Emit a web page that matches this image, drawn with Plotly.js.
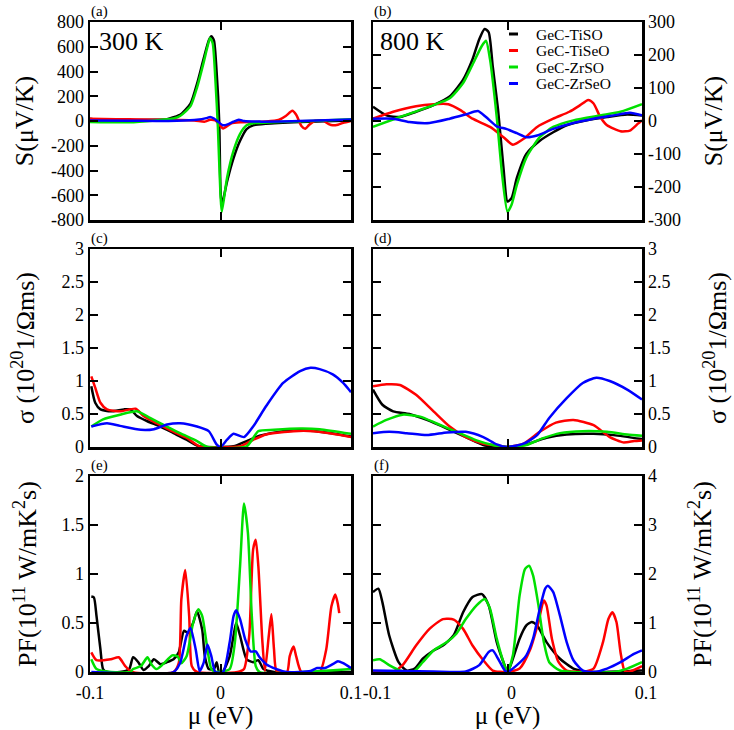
<!DOCTYPE html>
<html>
<head>
<meta charset="utf-8">
<script src="https://cdn.plot.ly/plotly-3.0.1.min.js"></script>
<style>
  body { margin: 0; background: white; }
  #chart { width: 734px; height: 730px; }
</style>
</head>
<body>
<div id="chart"></div>
<script>
// ---- data (mu in eV) ----
const names = ['GeC-TiSO', 'GeC-TiSeO', 'GeC-ZrSO', 'GeC-ZrSeO']
const colors = ['#000000', '#ff0000', '#00e000', '#0000ff']

// (a) Seebeck, 300 K
const aTiSOx = [-0.100, -0.090, -0.070, -0.050, -0.041, -0.036, -0.031, -0.023, -0.018, -0.013, -0.009, -0.007, -0.005, -0.003, -0.001, 0.000, 0.001, 0.005, 0.010, 0.015, 0.020, 0.025, 0.035, 0.061, 0.100]
const aTiSOy = [19, 5, 5, 10, 15, 30, 50, 140, 300, 500, 650, 685, 650, 400, 0, -550, -680, -490, -300, -160, -65, -35, -22, -8, 5]
const aTiSeOx = [-0.100, -0.080, -0.060, -0.040, -0.020, -0.012, -0.008, -0.004, 0.000, 0.002, 0.008, 0.015, 0.025, 0.035, 0.045, 0.050, 0.055, 0.058, 0.062, 0.065, 0.068, 0.072, 0.078, 0.083, 0.086, 0.090, 0.094, 0.100]
const aTiSeOy = [18, 15, 12, 10, 5, -5, 10, 5, -40, -60, -20, -10, -8, -5, 10, 40, 82, 50, -40, -63, -30, 0, 5, -25, -35, -30, -15, 0]
const aZrSOx = [-0.100, -0.070, -0.050, -0.036, -0.031, -0.023, -0.018, -0.013, -0.010, -0.008, -0.006, -0.004, -0.002, 0.000, 0.001, 0.005, 0.010, 0.015, 0.020, 0.025, 0.040, 0.070, 0.100]
const aZrSOy = [-8, -10, 5, 20, 40, 120, 270, 470, 600, 670, 630, 350, -50, -600, -735, -460, -240, -104, -35, -18, -10, 0, 15]
const aZrSeOx = [-0.100, -0.070, -0.040, -0.020, -0.010, -0.008, -0.005, -0.002, 0.002, 0.006, 0.010, 0.014, 0.018, 0.030, 0.060, 0.100]
const aZrSeOy = [5, 3, 0, 8, 25, 33, 20, -5, -35, -25, -5, 11, 0, -5, 0, 12]

// (b) Seebeck, 800 K
const bTiSOx = [-0.100, -0.090, -0.080, -0.068, -0.055, -0.043, -0.033, -0.026, -0.021, -0.017, -0.014, -0.011, -0.007, -0.003, 0.000, 0.003, 0.007, 0.014, 0.024, 0.034, 0.044, 0.059, 0.074, 0.089, 0.100]
const bTiSOy = [43, 17, 12, 28, 48, 74, 125, 187, 248, 279, 269, 166, 33, -142, -244, -234, -172, -100, -60, -34, -13, 2, 12, 20, 17]
const bTiSeOx = [-0.100, -0.085, -0.068, -0.055, -0.044, -0.035, -0.026, -0.013, -0.003, 0.004, 0.012, 0.022, 0.034, 0.046, 0.054, 0.060, 0.064, 0.069, 0.074, 0.084, 0.091, 0.097, 0.100]
const bTiSeOy = [7, 28, 45, 51, 51, 33, 7, -18, -49, -72, -54, -18, 7, 28, 48, 64, 53, 12, -13, -31, -29, -8, 2]
const bZrSOx = [-0.100, -0.080, -0.055, -0.043, -0.033, -0.026, -0.019, -0.016, -0.013, -0.008, -0.004, 0.000, 0.003, 0.007, 0.014, 0.024, 0.034, 0.049, 0.069, 0.084, 0.100]
const bZrSOy = [-18, 12, 48, 69, 115, 171, 228, 243, 187, 12, -162, -275, -254, -193, -111, -49, -18, 2, 17, 28, 51]
const bZrSeOx = [-0.100, -0.085, -0.073, -0.058, -0.043, -0.031, -0.022, -0.016, -0.008, -0.001, 0.007, 0.014, 0.022, 0.034, 0.049, 0.064, 0.079, 0.091, 0.100]
const bZrSeOy = [7, 7, -3, -6, 7, 20, 30, 12, -16, -24, -37, -49, -44, -24, -6, 7, 17, 25, 17]

// (c) conductivity, 300 K
const cTiSOx = [-0.099, -0.096, -0.092, -0.084, -0.074, -0.069, -0.064, -0.056, -0.046, -0.036, -0.026, -0.018, -0.010, 0.010, 0.020, 0.030, 0.048, 0.066, 0.081, 0.100]
const cTiSOy = [0.92, 0.67, 0.57, 0.54, 0.57, 0.57, 0.47, 0.39, 0.31, 0.21, 0.11, 0.02, 0, 0.01, 0.09, 0.17, 0.24, 0.25, 0.22, 0.16]
const cTiSeOx = [-0.099, -0.096, -0.092, -0.087, -0.077, -0.065, -0.059, -0.049, -0.039, -0.026, -0.016, 0.015, 0.025, 0.035, 0.056, 0.071, 0.086, 0.100]
const cTiSeOy = [1.07, 0.9, 0.67, 0.57, 0.54, 0.58, 0.47, 0.36, 0.26, 0.14, 0.01, 0.01, 0.11, 0.19, 0.24, 0.24, 0.2, 0.15]
const cZrSOx = [-0.099, -0.090, -0.077, -0.064, -0.054, -0.044, -0.031, -0.018, -0.010, 0.020, 0.029, 0.041, 0.061, 0.076, 0.100]
const cZrSOy = [0.31, 0.42, 0.49, 0.54, 0.44, 0.34, 0.21, 0.09, 0, 0.01, 0.24, 0.26, 0.28, 0.27, 0.2]
const cZrSeOx = [-0.099, -0.087, -0.077, -0.061, -0.051, -0.041, -0.031, -0.018, -0.009, -0.003, 0.000, 0.005, 0.010, 0.018, 0.025, 0.035, 0.048, 0.061, 0.069, 0.076, 0.086, 0.094, 0.100]
const cZrSeOy = [0.31, 0.36, 0.32, 0.26, 0.27, 0.34, 0.36, 0.31, 0.24, 0.04, 0, 0.11, 0.2, 0.15, 0.31, 0.62, 0.97, 1.15, 1.2, 1.18, 1.1, 0.97, 0.83]

// (d) conductivity, 800 K
const dTiSOx = [-0.100, -0.093, -0.085, -0.073, -0.060, -0.045, -0.031, -0.018, -0.008, 0.002, 0.014, 0.029, 0.044, 0.064, 0.079, 0.100]
const dTiSOy = [0.87, 0.64, 0.54, 0.5, 0.41, 0.28, 0.15, 0.03, 0, 0, 0.04, 0.14, 0.19, 0.2, 0.18, 0.12]
const dTiSeOx = [-0.100, -0.090, -0.080, -0.068, -0.055, -0.043, -0.031, -0.018, -0.006, 0.000, 0.012, 0.024, 0.036, 0.049, 0.064, 0.076, 0.086, 0.094, 0.100]
const dTiSeOy = [0.92, 0.95, 0.94, 0.79, 0.54, 0.31, 0.15, 0.05, 0.02, 0, 0.05, 0.23, 0.37, 0.41, 0.33, 0.15, 0.07, 0.09, 0.1]
const dZrSOx = [-0.100, -0.090, -0.078, -0.065, -0.053, -0.038, -0.023, -0.011, 0.000, 0.014, 0.026, 0.039, 0.056, 0.074, 0.089, 0.100]
const dZrSOy = [0.31, 0.41, 0.49, 0.46, 0.36, 0.23, 0.1, 0.03, 0, 0.03, 0.13, 0.21, 0.24, 0.23, 0.19, 0.17]
const dZrSeOx = [-0.100, -0.088, -0.075, -0.060, -0.045, -0.031, -0.018, -0.008, 0.000, 0.012, 0.022, 0.031, 0.044, 0.056, 0.066, 0.076, 0.089, 0.100]
const dZrSeOy = [0.21, 0.23, 0.21, 0.18, 0.22, 0.23, 0.15, 0.04, 0, 0.05, 0.18, 0.44, 0.74, 0.97, 1.05, 1.0, 0.87, 0.72]

// (e) power factor, 300 K
const eTiSOx = [-0.099, -0.097, -0.095, -0.092, -0.090, -0.087, -0.077, -0.070, -0.067, -0.063, -0.059, -0.055, -0.051, -0.046, -0.041, -0.036, -0.032, -0.028, -0.025, -0.021, -0.018, -0.014, -0.012, -0.009, -0.005, -0.003, -0.001, 0.002, 0.007, 0.010, 0.012, 0.015, 0.020, 0.025, 0.029, 0.033, 0.041, 0.100]
const eTiSOy = [0.77, 0.76, 0.57, 0.23, 0.03, 0, 0, 0.03, 0.15, 0.1, 0.02, 0.06, 0.13, 0.08, 0.1, 0.13, 0.2, 0.42, 0.4, 0.5, 0.62, 0.43, 0.16, 0.03, 0.03, 0.1, 0, 0.01, 0.16, 0.37, 0.5, 0.37, 0.13, 0.1, 0.12, 0.03, 0, 0]
const eTiSeOx = [-0.099, -0.095, -0.084, -0.078, -0.073, -0.068, -0.036, -0.032, -0.030, -0.027, -0.024, -0.022, -0.018, 0.013, 0.018, 0.022, 0.025, 0.027, 0.029, 0.032, 0.034, 0.037, 0.039, 0.041, 0.043, 0.051, 0.053, 0.056, 0.058, 0.062, 0.076, 0.081, 0.085, 0.088, 0.090, 0.091]
const eTiSeOy = [0.2, 0.12, 0.13, 0.15, 0.06, 0, 0, 0.09, 0.74, 1.04, 0.57, 0.06, 0, 0, 0.03, 0.37, 1.25, 1.35, 1.08, 0.33, 0.01, 0.37, 0.59, 0.23, 0.01, 0, 0.16, 0.26, 0.16, 0, 0, 0.23, 0.67, 0.79, 0.69, 0.6]
const eZrSOx = [-0.099, -0.095, -0.084, -0.069, -0.067, -0.061, -0.056, -0.053, -0.049, -0.044, -0.037, -0.033, -0.030, -0.026, -0.021, -0.017, -0.014, -0.010, -0.007, -0.003, 0.007, 0.011, 0.015, 0.018, 0.021, 0.024, 0.027, 0.030, 0.100]
const eZrSOy = [0.13, 0.03, 0, 0, 0.03, 0.06, 0.15, 0.08, 0.03, 0.08, 0.17, 0.16, 0.09, 0.16, 0.5, 0.64, 0.57, 0.23, 0.03, 0, 0.03, 0.3, 1.08, 1.72, 1.42, 0.57, 0.06, 0, 0.03]
const eZrSeOx = [-0.099, -0.036, -0.031, -0.026, -0.023, -0.019, -0.016, -0.013, -0.010, -0.007, -0.004, 0.002, 0.007, 0.010, 0.012, 0.015, 0.019, 0.023, 0.027, 0.030, 0.035, 0.043, 0.051, 0.069, 0.074, 0.080, 0.086, 0.090, 0.094, 0.100]
const eZrSeOy = [0, 0, 0.09, 0.37, 0.45, 0.23, 0.01, 0.09, 0.28, 0.16, 0, 0, 0.3, 0.57, 0.63, 0.54, 0.33, 0.21, 0.21, 0.15, 0.08, 0.03, 0, 0.01, 0.04, 0.04, 0.08, 0.11, 0.09, 0.04]

// (f) power factor, 800 K
const fTiSOx = [-0.100, -0.096, -0.093, -0.088, -0.081, -0.075, -0.069, -0.063, -0.055, -0.048, -0.040, -0.033, -0.026, -0.019, -0.014, -0.008, -0.003, 0.000, 0.004, 0.009, 0.014, 0.018, 0.022, 0.029, 0.039, 0.049, 0.059, 0.069, 0.100]
const fTiSOy = [1.63, 1.7, 1.42, 0.75, 0.2, 0.03, 0.07, 0.27, 0.44, 0.54, 0.75, 1.22, 1.53, 1.59, 1.36, 0.61, 0.2, 0, 0.27, 0.68, 0.95, 1.02, 0.95, 0.61, 0.27, 0.07, 0.01, 0, 0.03]
const fTiSeOx = [-0.100, -0.085, -0.078, -0.068, -0.058, -0.048, -0.040, -0.033, -0.026, -0.018, -0.011, 0.000, 0.009, 0.017, 0.023, 0.027, 0.029, 0.033, 0.038, 0.044, 0.056, 0.064, 0.071, 0.075, 0.078, 0.081, 0.084, 0.087, 0.091, 0.100]
const fTiSeOy = [0.01, 0.01, 0.14, 0.54, 0.88, 1.08, 1.07, 0.88, 0.54, 0.24, 0.03, 0, 0.07, 0.47, 1.02, 1.46, 1.36, 0.68, 0.2, 0.03, 0.01, 0.07, 0.61, 1.08, 1.22, 1.02, 0.41, 0.03, 0.01, 0.12]
const fZrSOx = [-0.100, -0.095, -0.088, -0.080, -0.070, -0.063, -0.055, -0.045, -0.038, -0.031, -0.023, -0.017, -0.013, -0.008, -0.003, 0.000, 0.004, 0.009, 0.013, 0.016, 0.019, 0.023, 0.027, 0.031, 0.039, 0.049, 0.079, 0.089, 0.100]
const fZrSOy = [0.24, 0.26, 0.14, 0.03, 0, 0.2, 0.44, 0.61, 0.78, 1.08, 1.36, 1.49, 1.29, 0.68, 0.2, 0, 0.34, 1.56, 2.1, 2.17, 1.97, 1.36, 0.61, 0.2, 0.03, 0, 0, 0.07, 0.2]
const fZrSeOx = [-0.100, -0.055, -0.031, -0.021, -0.014, -0.011, -0.007, -0.002, 0.000, 0.007, 0.014, 0.019, 0.024, 0.028, 0.030, 0.034, 0.039, 0.044, 0.049, 0.056, 0.064, 0.074, 0.084, 0.094, 0.100]
const fZrSeOy = [0.03, 0.01, 0.01, 0.14, 0.41, 0.44, 0.27, 0.03, 0, 0.14, 0.34, 0.68, 1.29, 1.7, 1.76, 1.63, 1.15, 0.61, 0.24, 0.03, 0, 0.07, 0.2, 0.37, 0.44]

// axis ticks
const xTicks = [-0.1, 0, 0.1]
const xTickText = ['-0.1', '0', '0.1']
const sTicksA = [-800, -600, -400, -200, 0, 200, 400, 600, 800]
const sTextA = ['-800', '-600', '-400', '-200', '0', '200', '400', '600', '800']
const sTicksB = [-300, -200, -100, 0, 100, 200, 300]
const sTextB = ['-300', '-200', '-100', '0', '100', '200', '300']
const sigTicks = [0, 0.5, 1, 1.5, 2, 2.5, 3]
const pfTicksE = [0, 0.5, 1, 1.5, 2]
const pfTicksF = [0, 1, 2, 3, 4]

const serif = 'Liberation Serif, Times New Roman, serif'

let makeTraces = (sets, axisNum) => {
    return sets.map((s, i) => ({
        x: s[0], y: s[1],
        type: 'scatter', mode: 'lines',
        name: names[i],
        showlegend: false,
        line: {color: colors[i], width: 2.5, shape: 'spline', smoothing: 0.6},
        xaxis: 'x' + (axisNum === 1 ? '' : axisNum),
        yaxis: 'y' + (axisNum === 1 ? '' : axisNum)
    }))
}

let data = [].concat(
    makeTraces([[aTiSOx, aTiSOy], [aTiSeOx, aTiSeOy], [aZrSOx, aZrSOy], [aZrSeOx, aZrSeOy]], 1),
    makeTraces([[bTiSOx, bTiSOy], [bTiSeOx, bTiSeOy], [bZrSOx, bZrSOy], [bZrSeOx, bZrSeOy]], 2),
    makeTraces([[cTiSOx, cTiSOy], [cTiSeOx, cTiSeOy], [cZrSOx, cZrSOy], [cZrSeOx, cZrSeOy]], 3),
    makeTraces([[dTiSOx, dTiSOy], [dTiSeOx, dTiSeOy], [dZrSOx, dZrSOy], [dZrSeOx, dZrSeOy]], 4),
    makeTraces([[eTiSOx, eTiSOy], [eTiSeOx, eTiSeOy], [eZrSOx, eZrSOy], [eZrSeOx, eZrSeOy]], 5),
    makeTraces([[fTiSOx, fTiSOy], [fTiSeOx, fTiSeOy], [fZrSOx, fZrSOy], [fZrSeOx, fZrSeOy]], 6)
)

let baseAxis = () => ({
    showline: true, linecolor: 'black', linewidth: 2.5, mirror: 'ticks',
    ticks: 'inside', ticklen: 8, tickwidth: 2, tickcolor: 'black',
    showgrid: false, zeroline: false, fixedrange: true,
    tickfont: {family: serif, size: 18, color: 'black'}
})

// plot boxes in pixels of the 734x730 page
const W = 734, H = 730
const colLeft = [90 / W, 351 / W]
const colRight = [373 / W, 642 / W]
const rows = [[1 - 220 / H, 1 - 22 / H], [1 - 447 / H, 1 - 249 / H], [1 - 672 / H, 1 - 476 / H]]

let xAxis = (dom, anchor, labels, shift) => {
    let ax = Object.assign(baseAxis(), {
        domain: dom, anchor: anchor, range: [-0.1, 0.1],
        tickvals: xTicks, ticktext: xTickText, showticklabels: labels
    })
    if (labels) {
        ax.title = {text: 'μ (eV)', font: {family: serif, size: 25, color: 'black'}, standoff: 1}
        ax.ticklabelshift = shift
        ax.ticklabelstandoff = 3
    }
    return ax
}

let yAxis = (dom, anchor, side, range, vals, text, title, standoff) => {
    let ax = Object.assign(baseAxis(), {
        domain: dom, anchor: anchor, side: side, range: range, tickvals: vals,
        title: {text: title, font: {family: serif, size: 26, color: 'black'}, standoff: standoff}
    })
    if (text) ax.ticktext = text
    return ax
}

const sTitle = 'S(μV/K)'
const sigTitle = 'σ (10<sup>20</sup>1/Ωms)'
const pfTitle = 'PF(10<sup>11</sup> W/mK<sup>2</sup>s)'

let panelLabel = (txt, ax) => ({
    text: txt, xref: ax[0] + ' domain', yref: ax[1] + ' domain', x: -0.005, y: 1,
    xanchor: 'left', yanchor: 'bottom', showarrow: false,
    font: {family: serif, size: 15, color: 'black'}
})

// legend of panel (b): short coloured dashes with names, stacked
const legendRows = [34, 50.5, 67, 83.5]
let legendShapes = names.map((n, i) => ({
    type: 'line', xref: 'paper', yref: 'paper',
    x0: 509 / W, x1: 518 / W, y0: 1 - legendRows[i] / H, y1: 1 - legendRows[i] / H,
    line: {color: colors[i], width: 3}
}))
let legendTexts = names.map((n, i) => ({
    text: n, xref: 'paper', yref: 'paper', x: 535 / W, y: 1 - legendRows[i] / H,
    xanchor: 'left', yanchor: 'middle', showarrow: false, borderpad: 0,
    font: {family: serif, size: 15.5, color: 'black'}
}))

let layout = {
    width: W, height: H,
    margin: {l: 0, r: 0, t: 0, b: 0},
    paper_bgcolor: 'white', plot_bgcolor: 'white',
    showlegend: false,
    xaxis: xAxis(colLeft, 'y', false),
    xaxis2: xAxis(colRight, 'y2', false),
    xaxis3: xAxis(colLeft, 'y3', false),
    xaxis4: xAxis(colRight, 'y4', false),
    xaxis5: xAxis(colLeft, 'y5', true, 0),
    xaxis6: xAxis(colRight, 'y6', true, 4),
    yaxis: yAxis(rows[0], 'x', 'left', [-800, 800], sTicksA, sTextA, sTitle, 10),
    yaxis2: yAxis(rows[0], 'x2', 'right', [-300, 300], sTicksB, sTextB, sTitle, 24),
    yaxis3: yAxis(rows[1], 'x3', 'left', [0, 3], sigTicks, null, sigTitle, 20),
    yaxis4: yAxis(rows[1], 'x4', 'right', [0, 3], sigTicks, null, sigTitle, 38),
    yaxis5: yAxis(rows[2], 'x5', 'left', [0, 2], pfTicksE, null, pfTitle, 18),
    yaxis6: yAxis(rows[2], 'x6', 'right', [0, 4], pfTicksF, null, pfTitle, 37),
    shapes: legendShapes,
    annotations: [
        panelLabel('(a)', ['x', 'y']),
        panelLabel('(b)', ['x2', 'y2']),
        panelLabel('(c)', ['x3', 'y3']),
        panelLabel('(d)', ['x4', 'y4']),
        panelLabel('(e)', ['x5', 'y5']),
        panelLabel('(f)', ['x6', 'y6']),
        {text: '300 K', xref: 'x domain', yref: 'y domain', x: 0.025, y: 0.9, xanchor: 'left', yanchor: 'middle',
         showarrow: false, font: {family: serif, size: 26, color: 'black'}},
        {text: '800 K', xref: 'x2 domain', yref: 'y2 domain', x: 0.02, y: 0.9, xanchor: 'left', yanchor: 'middle',
         showarrow: false, font: {family: serif, size: 26, color: 'black'}}
    ].concat(legendTexts)
}

Plotly.newPlot('chart', data, layout, {staticPlot: true})
</script>
</body>
</html>
